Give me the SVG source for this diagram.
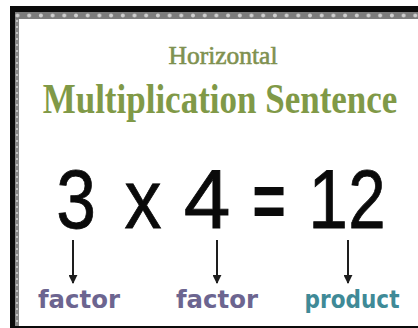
<svg xmlns="http://www.w3.org/2000/svg" width="418" height="328" viewBox="0 0 418 328">
  <defs>
    <pattern id="dots" x="0" y="12" width="11.7" height="7" patternUnits="userSpaceOnUse">
      <rect width="11.7" height="7" fill="#7c7c7c"/>
      <circle cx="5.8" cy="3.5" r="2" fill="#cfcfcf"/>
    </pattern>
    <pattern id="vdots" x="15" y="0" width="4" height="6" patternUnits="userSpaceOnUse">
      <rect width="4" height="6" fill="#8a8a8a"/>
      <rect x="1" y="2" width="2" height="2" fill="#c4c4c4"/>
    </pattern>
    <marker id="arrow" viewBox="0 0 10 10" refX="9" refY="5" markerWidth="4.5" markerHeight="4.5" orient="auto" markerUnits="strokeWidth">
      <path d="M0,0 L10,5 L0,10 Z" fill="#1e1e1e"/>
    </marker>
    <style>
      .title { font-family: "Liberation Serif", "DejaVu Serif", serif; text-anchor: middle; }
      .num { font-family: "Liberation Sans", Arial, sans-serif; fill: #0a0a0a; text-anchor: middle; font-size: 84px; }
      .lbl { font-family: "DejaVu Sans", "Liberation Sans", sans-serif; font-weight: bold; font-size: 25px; text-anchor: middle; }
      .conn { stroke: #1e1e1e; stroke-width: 2; fill: none; marker-end: url(#arrow); }
    </style>
  </defs>

  <g id="frame">
    <rect x="0" y="0" width="418" height="328" fill="#ffffff"/>
    <rect x="10" y="6" width="420" height="322" fill="#0b0b0b"/>
    <rect x="15" y="12" width="415" height="314" fill="#ffffff"/>
    <rect x="15" y="12" width="415" height="7" fill="url(#dots)"/>
    <rect x="15" y="19" width="4" height="307" fill="url(#vdots)"/>
  </g>

  <g id="title-small">
    <text class="title" transform="translate(223,64)" x="0" y="0" font-size="25.5" fill="#7f9150" stroke="#7f9150" stroke-width="0.6">Horizontal</text>
  </g>
  <g id="title-main">
    <text class="title" transform="translate(220,113) scale(1,1.2)" x="0" y="0" font-size="35" font-weight="bold" fill="#809947">Multiplication Sentence</text>
  </g>

  <g id="factor1-num"><text class="num" transform="translate(76,228) scale(0.85,1)" x="0" y="0" stroke="#0a0a0a" stroke-width="0.8">3</text></g>
  <g id="times"><text class="num" transform="translate(143,228) scale(0.88,1)" x="0" y="0" stroke="#0a0a0a" stroke-width="0.8">x</text></g>
  <g id="factor2-num"><text class="num" transform="translate(207,228)" x="0" y="0" stroke="#0a0a0a" stroke-width="0.8">4</text></g>
  <g id="equals"><text class="num" transform="translate(269,234) scale(0.55,1.2)" x="0" y="0" font-size="82" style="font-family:'DejaVu Sans',sans-serif">=</text></g>
  <g id="product-num">
    <text class="num" transform="translate(328,228) scale(0.85,1)" x="0" y="0" stroke="#0a0a0a" stroke-width="0.8">1</text>
    <text class="num" transform="translate(367,228) scale(0.8,1)" x="0" y="0" stroke="#0a0a0a" stroke-width="0.8">2</text>
  </g>

  <g id="connectors">
    <line class="conn" x1="73" y1="240" x2="73" y2="283"/>
    <line class="conn" x1="217" y1="240" x2="217" y2="283"/>
    <line class="conn" x1="348" y1="240" x2="348" y2="283"/>
  </g>

  <g id="factor1-label"><text class="lbl" x="79" y="308" fill="#6c6590" textLength="82" lengthAdjust="spacingAndGlyphs">factor</text></g>
  <g id="factor2-label"><text class="lbl" x="217" y="308" fill="#6c6590" textLength="82" lengthAdjust="spacingAndGlyphs">factor</text></g>
  <g id="product-label"><text class="lbl" x="352" y="308" fill="#3f8a97" font-size="23" textLength="95" lengthAdjust="spacingAndGlyphs">product</text></g>
</svg>
